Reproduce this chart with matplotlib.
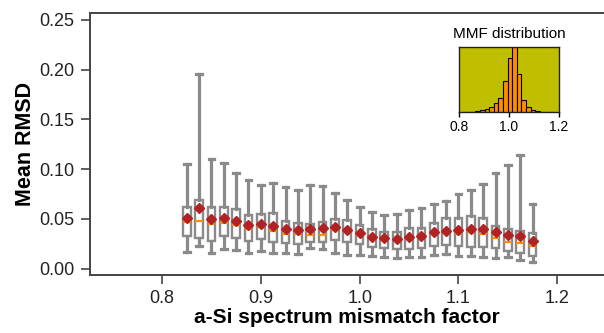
import numpy as np
import matplotlib
matplotlib.use("Agg")
import matplotlib.pyplot as plt

plt.rcParams['font.family'] = ['Liberation Sans', 'DejaVu Sans']

# mismatch factor of each box
mmf = [0.825 + 0.0125 * i for i in range(29)]

whis_hi = [0.1048, 0.1958, 0.1104, 0.1058, 0.0961, 0.0888, 0.0837, 0.0863, 0.0817, 0.0793,
           0.0840, 0.0830, 0.0757, 0.0690, 0.0622, 0.0574, 0.0542, 0.0549, 0.0589, 0.0614,
           0.0650, 0.0683, 0.0747, 0.0790, 0.0852, 0.0961, 0.1039, 0.1139, 0.0650]
q3 = [0.0616, 0.0693, 0.0619, 0.0619, 0.0599, 0.0539, 0.0552, 0.0556, 0.0482, 0.0459,
      0.0452, 0.0469, 0.0504, 0.0486, 0.0439, 0.0399, 0.0373, 0.0368, 0.0412, 0.0409,
      0.0459, 0.0512, 0.0514, 0.0534, 0.0506, 0.0431, 0.0397, 0.0384, 0.0355]
means = [0.0506, 0.0606, 0.0499, 0.0512, 0.0482, 0.0439, 0.0446, 0.0429, 0.0402, 0.0386,
         0.0402, 0.0409, 0.0416, 0.0389, 0.0355, 0.0321, 0.0305, 0.0300, 0.0323, 0.0326,
         0.0365, 0.0384, 0.0389, 0.0402, 0.0399, 0.0368, 0.0335, 0.0326, 0.0283]
medians = [0.0472, 0.0482, 0.0446, 0.0456, 0.0442, 0.0399, 0.0416, 0.0379, 0.0351, 0.0345,
           0.0341, 0.0341, 0.0389, 0.0384, 0.0341, 0.0311, 0.0295, 0.0288, 0.0321, 0.0311,
           0.0355, 0.0371, 0.0348, 0.0365, 0.0348, 0.0308, 0.0271, 0.0261, 0.0225]
q1 = [0.0328, 0.0311, 0.0278, 0.0328, 0.0311, 0.0278, 0.0298, 0.0265, 0.0255, 0.0251,
      0.0271, 0.0268, 0.0293, 0.0268, 0.0250, 0.0218, 0.0208, 0.0196, 0.0203, 0.0213,
      0.0233, 0.0238, 0.0228, 0.0223, 0.0218, 0.0205, 0.0183, 0.0160, 0.0128]
whis_lo = [0.0171, 0.0231, 0.0161, 0.0198, 0.0188, 0.0155, 0.0181, 0.0155, 0.0155, 0.0148,
           0.0211, 0.0201, 0.0156, 0.0143, 0.0135, 0.0128, 0.0117, 0.0109, 0.0114, 0.0120,
           0.0138, 0.0150, 0.0133, 0.0128, 0.0120, 0.0105, 0.0117, 0.0085, 0.0064]

# inset histogram (relative counts)
hist_left = 0.8103
hist_width = 0.01837
hist_counts = [0.5, 0.5, 1, 2, 3, 5, 8.6, 14, 22, 47, 82, 100, 59, 19, 8, 3.5, 1.5, 1, 0.7, 0.5]

gray = '#8a8a8a'
spine_col = '#444444'

fig = plt.figure(figsize=(6.04, 3.33), dpi=100)
ax = fig.add_axes([0.149, 0.174, 0.851, 0.786])

stats = []
for i in range(len(mmf)):
    stats.append({'med': medians[i], 'q1': q1[i], 'q3': q3[i],
                  'whislo': whis_lo[i], 'whishi': whis_hi[i],
                  'mean': means[i], 'fliers': []})

ax.bxp(stats, positions=mmf, widths=0.0078, capwidths=0.0058,
       patch_artist=True, showmeans=True, manage_ticks=False,
       boxprops=dict(facecolor='white', edgecolor=gray, linewidth=1.7),
       whiskerprops=dict(color=gray, linewidth=2.3),
       capprops=dict(color=gray, linewidth=2.3),
       medianprops=dict(color='#ff8c00', linewidth=1.6),
       meanprops=dict(marker='D', markerfacecolor='#b22222',
                      markeredgecolor='#b22222', markersize=5.5))

ax.set_xlim(0.7271, 1.2473)
ax.set_ylim(-0.0063, 0.2564)
ax.set_xticks([0.8, 0.9, 1.0, 1.1, 1.2])
ax.set_xticklabels(['0.8', '0.9', '1.0', '1.1', '1.2'])
ax.set_yticks([0.0, 0.05, 0.10, 0.15, 0.20, 0.25])
ax.set_yticklabels(['0.00', '0.05', '0.10', '0.15', '0.20', '0.25'])
ax.tick_params(axis='both', direction='out', length=6.5, width=1.2,
               color=spine_col, labelsize=13, labelcolor='#222222', pad=5)
ax.tick_params(axis='x', pad=4)
ax.spines['right'].set_visible(False)
for s in ['left', 'top', 'bottom']:
    ax.spines[s].set_color(spine_col)
    ax.spines[s].set_linewidth(1.4)

ax.set_xlabel('a-Si spectrum mismatch factor', fontsize=15, fontweight='bold', labelpad=1)
ax.set_ylabel('Mean RMSD', fontsize=15.5, fontweight='bold', labelpad=2)

# inset with the MMF distribution
axin = fig.add_axes([0.760, 0.6628, 0.1656, 0.197])
axin.set_facecolor('#bfbf00')
edges = [hist_left + hist_width * i for i in range(len(hist_counts))]
axin.bar(edges, hist_counts, width=hist_width, align='edge',
         color='#ff8c00', edgecolor='black', linewidth=0.8)
axin.set_xlim(0.8, 1.2)
axin.set_ylim(0, max(hist_counts))
axin.set_yticks([])
axin.set_xticks([0.8, 1.0, 1.2])
axin.set_xticklabels(['0.8', '1.0', '1.2'])
axin.tick_params(axis='x', direction='out', length=3.5, width=1, labelsize=10, pad=2)
for s in axin.spines.values():
    s.set_color('#222222')
    s.set_linewidth(1)
axin.set_title('MMF distribution', fontsize=11, pad=6)

fig.savefig('out.png', dpi=100)
